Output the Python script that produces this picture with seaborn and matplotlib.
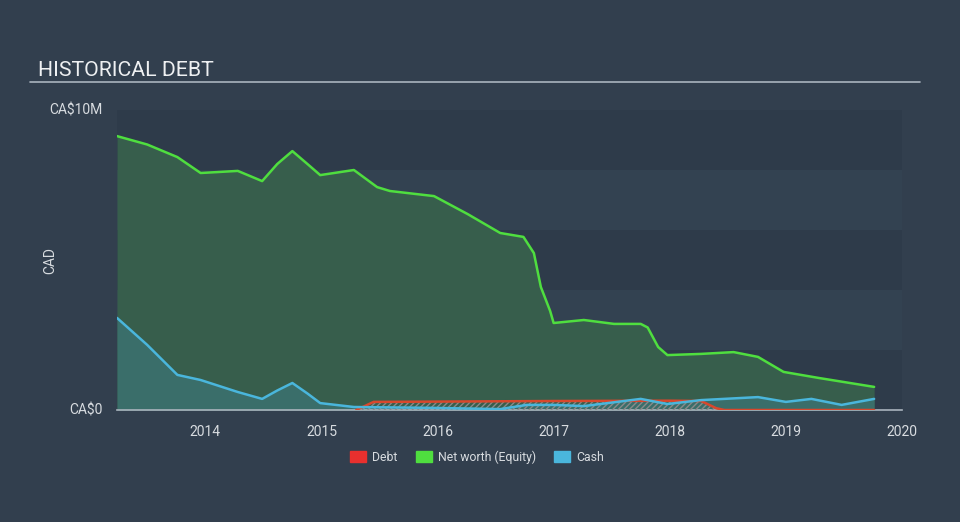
import matplotlib
matplotlib.use("Agg")
import matplotlib.pyplot as plt
import seaborn as sns
import pandas as pd
import numpy as np

# ---- data (CA$ millions) ----
nw_years = [2013.24, 2013.5, 2013.76, 2013.96, 2014.1, 2014.28, 2014.49, 2014.62, 2014.75, 2014.88,
            2014.99, 2015.28, 2015.48, 2015.59, 2015.97, 2016.26, 2016.54, 2016.74, 2016.83,
            2016.89, 2016.97, 2017.0, 2017.26, 2017.52, 2017.75, 2017.81, 2017.9, 2017.98,
            2018.27, 2018.55, 2018.76, 2018.98, 2019.28, 2019.76]
nw_values = [9.13, 8.85, 8.43, 7.9, 7.93, 7.97, 7.63, 8.2, 8.63, 8.2,
             7.83, 8.0, 7.43, 7.3, 7.13, 6.53, 5.9, 5.77, 5.23,
             4.1, 3.3, 2.9, 3.0, 2.87, 2.87, 2.75, 2.1, 1.83,
             1.87, 1.93, 1.77, 1.27, 1.07, 0.77]

cash_years = [2013.24, 2013.5, 2013.76, 2013.96, 2014.28, 2014.49, 2014.62, 2014.75, 2014.88,
              2014.99, 2015.28, 2015.97, 2016.54, 2016.77, 2017.0, 2017.26, 2017.75, 2017.98,
              2018.27, 2018.76, 2019.0, 2019.22, 2019.48, 2019.76]
cash_values = [3.07, 2.17, 1.17, 1.0, 0.6, 0.37, 0.65, 0.9, 0.55,
               0.23, 0.1, 0.07, 0.03, 0.17, 0.17, 0.13, 0.37, 0.2,
               0.33, 0.43, 0.27, 0.37, 0.17, 0.37]

debt_years = [2015.3, 2015.45, 2016.0, 2017.0, 2018.0, 2018.27, 2018.4, 2018.47, 2019.76]
debt_values = [0.0, 0.27, 0.28, 0.3, 0.31, 0.3, 0.06, 0.0, 0.0]

year_ticks = [2014, 2015, 2016, 2017, 2018, 2019, 2020]
y_ticks = [0, 10]
y_tick_labels = ["CA$0", "CA$10M"]
legend_labels = ["Debt", "Net worth (Equity)", "Cash"]

# ---- style ----
BG = "#323f4e"
TXT = "#d8dce0"
NW_LINE, NW_FILL = "#4fde3f", "#375e4c"
CASH_LINE, CASH_FILL = "#4ab6dc", "#3a6e6a"
DEBT_LINE = "#d9472c"

sns.set_theme(style="dark")
plt.rcParams["font.family"] = ["Roboto", "DejaVu Sans"]

fig = plt.figure(figsize=(9.6, 5.22), dpi=100, facecolor=BG)
ax = fig.add_axes([117/960, 112/522, 785/960, 300/522])
ax.set_facecolor("#2f3c4b")

# alternating bands
for i, lo in enumerate(np.arange(0, 10, 2)):
    ax.axhspan(lo, lo + 2, xmin=0, xmax=1, color="#2e3b4a" if i % 2 == 0 else "#334251",
               lw=0, zorder=0)

nw_df = pd.DataFrame({"year": nw_years, "value": nw_values})
cash_df = pd.DataFrame({"year": cash_years, "value": cash_values})
debt_df = pd.DataFrame({"year": debt_years, "value": debt_values})

ax.fill_between(nw_df["year"], nw_df["value"], color=NW_FILL, lw=0, zorder=1)
ax.fill_between(cash_df["year"], cash_df["value"], color=CASH_FILL, lw=0, zorder=2)
ax.fill_between(debt_df["year"], debt_df["value"], facecolor="none", edgecolor="#8a8a8a",
                hatch="//////", lw=0, zorder=3)

sns.lineplot(data=debt_df, x="year", y="value", color=DEBT_LINE, lw=1.8, ax=ax, zorder=4)
sns.lineplot(data=nw_df, x="year", y="value", color=NW_LINE, lw=1.8, ax=ax, zorder=5)
sns.lineplot(data=cash_df, x="year", y="value", color=CASH_LINE, lw=1.8, ax=ax, zorder=6)

ax.set_xlim(2013.24, 2020.0)
ax.set_ylim(0, 10)
ax.set_xticks(year_ticks)
ax.set_xticklabels([str(y) for y in year_ticks], color=TXT, fontsize=10)
ax.set_yticks(y_ticks)
ax.set_yticklabels(y_tick_labels, color=TXT, fontsize=10)
ax.tick_params(axis="x", length=8, width=1, color="#aab4be", pad=3, direction="out")
ax.tick_params(axis="y", length=0, pad=10.5)
for lbl in ax.get_yticklabels():
    lbl.set_verticalalignment("center")
ax.set_xlabel("")
ax.set_ylabel("CAD", color=TXT, fontsize=10)
ax.yaxis.set_label_coords((57 - 117) / 785, 0.5)
for s in ["top", "right", "left"]:
    ax.spines[s].set_visible(False)
ax.spines["bottom"].set_color("#aab4be")
ax.spines["bottom"].set_linewidth(1.2)
ax.grid(False)

# title + rule
fig.text(38/960, 1 - 70/522, "HISTORICAL DEBT", color="#eef0f2", fontsize=15.3,
         va="center", ha="left")
fig.add_artist(plt.Line2D([30/960, 920/960], [1 - 82/522, 1 - 82/522],
                          color="#aab4be", lw=1.2))

# legend
handles = [plt.Rectangle((0, 0), 1, 1, color=c) for c in ["#e8302e", "#4fde3f", "#4ab6dc"]]
leg = fig.legend(handles, legend_labels, loc="center", bbox_to_anchor=(0.497, 1 - 457/522),
                 ncol=3, frameon=False, fontsize=8.8, handlelength=1.3, handleheight=1.0,
                 columnspacing=1.5, handletextpad=0.5)
for t in leg.get_texts():
    t.set_color(TXT)

fig.savefig("out.png", dpi=100, facecolor=BG)
